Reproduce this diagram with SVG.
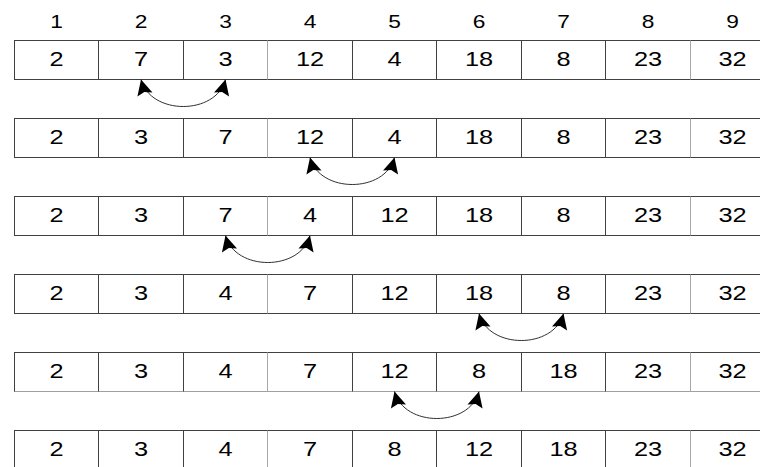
<svg xmlns="http://www.w3.org/2000/svg" width="760" height="467" viewBox="0 0 760 467">
<style>
.bg{fill:#ffffff}
.hl{stroke:#404040;stroke-width:1;fill:none}
.vl{stroke:#404040;stroke-width:1}
.vlt{stroke:#a8a8a8;stroke-width:1}
.hlt{stroke:#a0a0a0;stroke-width:1}
.hd{font-family:"Liberation Sans",Arial,sans-serif;font-size:17.5px;fill:#000;text-anchor:middle}
.ct{font-family:"Liberation Sans",Arial,sans-serif;font-size:19.5px;fill:#000;text-anchor:middle}
.arc{fill:none;stroke:#303030;stroke-width:1}
</style>
<defs>
<marker id="ah" markerUnits="userSpaceOnUse" viewBox="-18 -10 20 20" refX="0" refY="0" markerWidth="20" markerHeight="20" orient="auto-start-reverse">
<path d="M0,0 L-15.5,-7.8 L-13,0 L-15.5,7.8 Z" fill="#000"/>
</marker>
<g id="vlines">
<line class="vl" x1="14.5" y1="0" x2="14.5" y2="39"/>
<line class="vl" x1="98.5" y1="0" x2="98.5" y2="39"/>
<line class="vl" x1="183.5" y1="0" x2="183.5" y2="39"/>
<line class="vlt" x1="267.5" y1="0" x2="267.5" y2="39"/>
<line class="vl" x1="352.5" y1="0" x2="352.5" y2="39"/>
<line class="vl" x1="436.5" y1="0" x2="436.5" y2="39"/>
<line class="vl" x1="521.5" y1="0" x2="521.5" y2="39"/>
<line class="vl" x1="605.5" y1="0" x2="605.5" y2="39"/>
<line class="vlt" x1="690.5" y1="0" x2="690.5" y2="39"/>
</g>
</defs>
<rect class="bg" x="0" y="0" width="760" height="467"/>

<g id="header">
<text class="hd" transform="translate(56.5,27.5) scale(1.3,1)">1</text>
<text class="hd" transform="translate(141,27.5) scale(1.3,1)">2</text>
<text class="hd" transform="translate(225.5,27.5) scale(1.3,1)">3</text>
<text class="hd" transform="translate(310,27.5) scale(1.3,1)">4</text>
<text class="hd" transform="translate(394.5,27.5) scale(1.3,1)">5</text>
<text class="hd" transform="translate(479,27.5) scale(1.3,1)">6</text>
<text class="hd" transform="translate(563.5,27.5) scale(1.3,1)">7</text>
<text class="hd" transform="translate(648,27.5) scale(1.3,1)">8</text>
<text class="hd" transform="translate(732.5,27.5) scale(1.3,1)">9</text>
</g>

<g id="row1">
<line class="hl" x1="14" y1="40.5" x2="760" y2="40.5"/>
<line class="hl" x1="14" y1="79.5" x2="760" y2="79.5"/>
<use href="#vlines" y="40.5"/>
<text class="ct" transform="translate(56.5,66) scale(1.3,1)">2</text>
<text class="ct" transform="translate(141,66) scale(1.3,1)">7</text>
<text class="ct" transform="translate(225.5,66) scale(1.3,1)">3</text>
<text class="ct" transform="translate(310,66) scale(1.3,1)">12</text>
<text class="ct" transform="translate(394.5,66) scale(1.3,1)">4</text>
<text class="ct" transform="translate(479,66) scale(1.3,1)">18</text>
<text class="ct" transform="translate(563.5,66) scale(1.3,1)">8</text>
<text class="ct" transform="translate(648,66) scale(1.3,1)">23</text>
<text class="ct" transform="translate(732.5,66) scale(1.3,1)">32</text>
</g>

<g id="row2">
<line class="hl" x1="14" y1="118.5" x2="760" y2="118.5"/>
<line class="hl" x1="14" y1="157.5" x2="760" y2="157.5"/>
<use href="#vlines" y="118.5"/>
<text class="ct" transform="translate(56.5,144) scale(1.3,1)">2</text>
<text class="ct" transform="translate(141,144) scale(1.3,1)">3</text>
<text class="ct" transform="translate(225.5,144) scale(1.3,1)">7</text>
<text class="ct" transform="translate(310,144) scale(1.3,1)">12</text>
<text class="ct" transform="translate(394.5,144) scale(1.3,1)">4</text>
<text class="ct" transform="translate(479,144) scale(1.3,1)">18</text>
<text class="ct" transform="translate(563.5,144) scale(1.3,1)">8</text>
<text class="ct" transform="translate(648,144) scale(1.3,1)">23</text>
<text class="ct" transform="translate(732.5,144) scale(1.3,1)">32</text>
</g>

<g id="row3">
<line class="hl" x1="14" y1="196.5" x2="760" y2="196.5"/>
<line class="hl" x1="14" y1="235.5" x2="760" y2="235.5"/>
<use href="#vlines" y="196.5"/>
<text class="ct" transform="translate(56.5,222) scale(1.3,1)">2</text>
<text class="ct" transform="translate(141,222) scale(1.3,1)">3</text>
<text class="ct" transform="translate(225.5,222) scale(1.3,1)">7</text>
<text class="ct" transform="translate(310,222) scale(1.3,1)">4</text>
<text class="ct" transform="translate(394.5,222) scale(1.3,1)">12</text>
<text class="ct" transform="translate(479,222) scale(1.3,1)">18</text>
<text class="ct" transform="translate(563.5,222) scale(1.3,1)">8</text>
<text class="ct" transform="translate(648,222) scale(1.3,1)">23</text>
<text class="ct" transform="translate(732.5,222) scale(1.3,1)">32</text>
</g>

<g id="row4">
<line class="hl" x1="14" y1="274.5" x2="760" y2="274.5"/>
<line class="hl" x1="14" y1="313.5" x2="760" y2="313.5"/>
<use href="#vlines" y="274.5"/>
<text class="ct" transform="translate(56.5,300) scale(1.3,1)">2</text>
<text class="ct" transform="translate(141,300) scale(1.3,1)">3</text>
<text class="ct" transform="translate(225.5,300) scale(1.3,1)">4</text>
<text class="ct" transform="translate(310,300) scale(1.3,1)">7</text>
<text class="ct" transform="translate(394.5,300) scale(1.3,1)">12</text>
<text class="ct" transform="translate(479,300) scale(1.3,1)">18</text>
<text class="ct" transform="translate(563.5,300) scale(1.3,1)">8</text>
<text class="ct" transform="translate(648,300) scale(1.3,1)">23</text>
<text class="ct" transform="translate(732.5,300) scale(1.3,1)">32</text>
</g>

<g id="row5">
<line class="hl" x1="14" y1="352.5" x2="760" y2="352.5"/>
<line class="hlt" x1="14" y1="391.5" x2="760" y2="391.5"/>
<use href="#vlines" y="352.5"/>
<text class="ct" transform="translate(56.5,378) scale(1.3,1)">2</text>
<text class="ct" transform="translate(141,378) scale(1.3,1)">3</text>
<text class="ct" transform="translate(225.5,378) scale(1.3,1)">4</text>
<text class="ct" transform="translate(310,378) scale(1.3,1)">7</text>
<text class="ct" transform="translate(394.5,378) scale(1.3,1)">12</text>
<text class="ct" transform="translate(479,378) scale(1.3,1)">8</text>
<text class="ct" transform="translate(563.5,378) scale(1.3,1)">18</text>
<text class="ct" transform="translate(648,378) scale(1.3,1)">23</text>
<text class="ct" transform="translate(732.5,378) scale(1.3,1)">32</text>
</g>

<g id="row6">
<line class="hl" x1="14" y1="430.5" x2="760" y2="430.5"/>
<use href="#vlines" y="430.5"/>
<text class="ct" transform="translate(56.5,456) scale(1.3,1)">2</text>
<text class="ct" transform="translate(141,456) scale(1.3,1)">3</text>
<text class="ct" transform="translate(225.5,456) scale(1.3,1)">4</text>
<text class="ct" transform="translate(310,456) scale(1.3,1)">7</text>
<text class="ct" transform="translate(394.5,456) scale(1.3,1)">8</text>
<text class="ct" transform="translate(479,456) scale(1.3,1)">12</text>
<text class="ct" transform="translate(563.5,456) scale(1.3,1)">18</text>
<text class="ct" transform="translate(648,456) scale(1.3,1)">23</text>
<text class="ct" transform="translate(732.5,456) scale(1.3,1)">32</text>
</g>

<g id="connectors">
<path class="arc" marker-start="url(#ah)" marker-end="url(#ah)" d="M141,79.5 C150.5,115.5 216,115.5 225.5,79.5"/>
<path class="arc" marker-start="url(#ah)" marker-end="url(#ah)" d="M310,157.5 C319.5,193.5 385,193.5 394.5,157.5"/>
<path class="arc" marker-start="url(#ah)" marker-end="url(#ah)" d="M225.5,235.5 C235,271.5 300.5,271.5 310,235.5"/>
<path class="arc" marker-start="url(#ah)" marker-end="url(#ah)" d="M479,313.5 C488.5,349.5 554,349.5 563.5,313.5"/>
<path class="arc" marker-start="url(#ah)" marker-end="url(#ah)" d="M394.5,391.5 C404,427.5 469.5,427.5 479,391.5"/>
</g>
</svg>
